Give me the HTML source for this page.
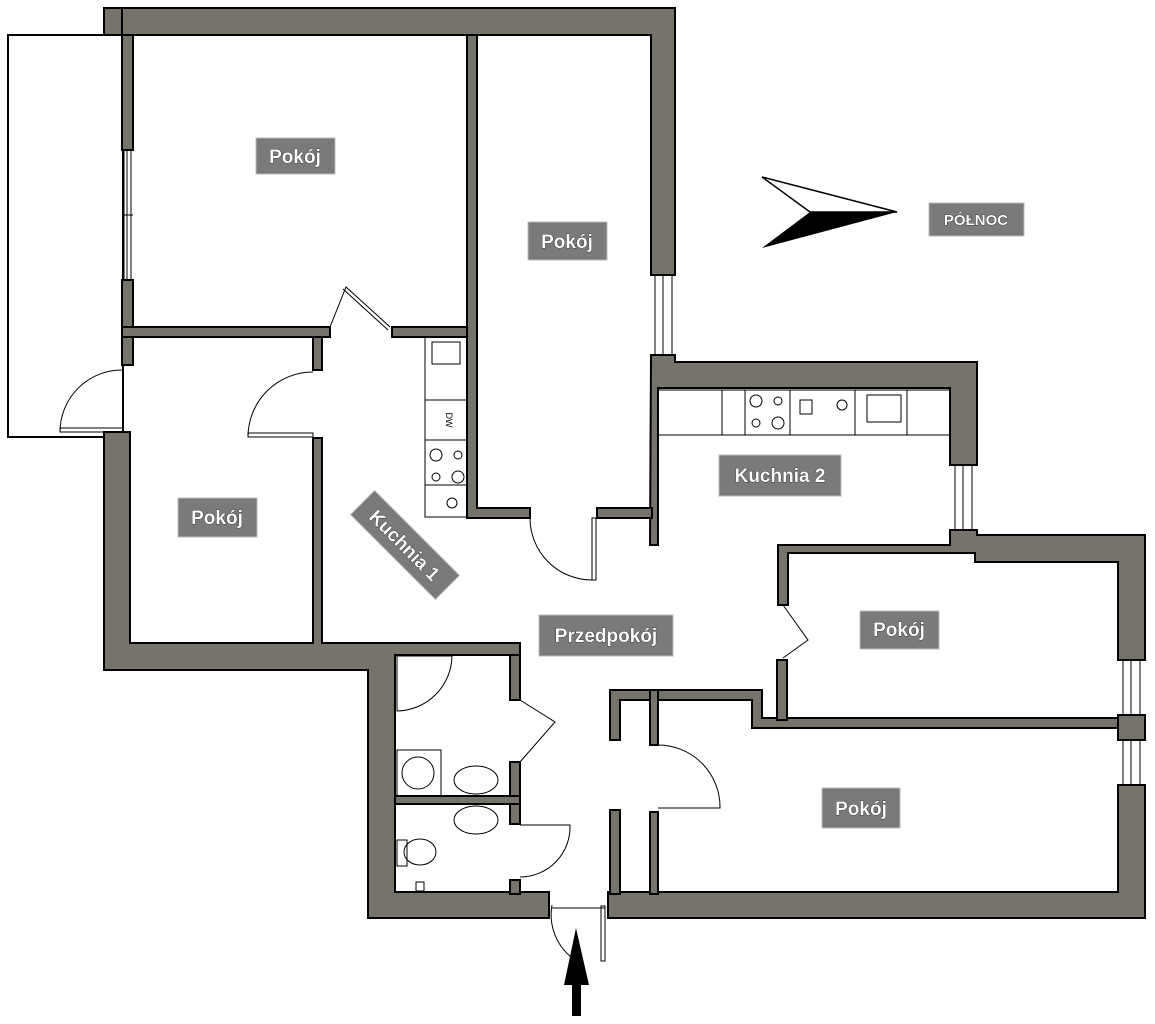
<!DOCTYPE html>
<html><head><meta charset="utf-8"><style>
html,body{margin:0;padding:0;background:#fff;}
svg{display:block}
.w{fill:#76736a;stroke:#000;stroke-width:2}
.l{fill:none;stroke:#000;stroke-width:1}
.t{font-family:"Liberation Sans",sans-serif;font-weight:bold;font-size:19px;fill:#fff;stroke:#000;stroke-width:0.6;paint-order:stroke}
.b{fill:#7a7a7a;stroke:#bbb;stroke-width:1}
</style></head><body>
<svg width="1155" height="1024" viewBox="0 0 1155 1024" xmlns="http://www.w3.org/2000/svg">
<rect x="8" y="35" width="115" height="402" fill="#fff" stroke="#000" stroke-width="2"/>
<path class="w" d="M104 8 H675 V275 H651 V35 H122 V8 Z"/>
<rect class="w" x="104" y="8" width="18" height="27"/>
<path class="w" d="M651 355 H675 V362 H977 V465 H950 V388 H658 V545 H650 Z"/>
<path class="w" d="M950 530 H977 V535 H1145 V660 H1118 V562 H975 V553 H788 V605 H778 V545 H950 Z"/>
<rect class="w" x="1118" y="715" width="27" height="25"/>
<path class="w" d="M1118 785 H1145 V918 H608 V892 H1118 Z"/>
<path class="w" d="M104 432 H130 V643 H313 V438 H322 V643 H520 V655 H395 V892 H549 V918 H368 V670 H104 Z"/>
<rect class="w" x="122" y="35" width="11" height="115"/>
<rect class="w" x="122" y="280" width="11" height="85"/>
<rect class="w" x="122" y="327" width="208" height="10"/>
<rect class="w" x="392" y="327" width="80" height="10"/>
<rect class="w" x="313" y="337" width="9" height="33"/>
<path class="w" d="M467 35 H477 V508 H530 V518 H467 Z"/>
<rect class="w" x="597" y="508" width="55" height="10"/>
<rect class="w" x="510" y="655" width="10" height="45"/>
<rect class="w" x="510" y="762" width="10" height="62"/>
<rect class="w" x="395" y="796" width="125" height="8"/>
<rect class="w" x="510" y="880" width="10" height="14"/>
<path class="w" d="M610 690 H762 V718 H1118 V728 H752 V700 H620 V740 H610 Z"/>
<rect class="w" x="650" y="690" width="8" height="55"/>
<rect class="w" x="777" y="660" width="10" height="60"/>
<rect class="w" x="610" y="810" width="10" height="84"/>
<rect class="w" x="650" y="812" width="8" height="82"/>
<g class="l">
<rect x="124" y="150" width="7" height="130"/><line x1="127" y1="150" x2="127" y2="280"/><line x1="122" y1="215" x2="133" y2="215"/>
<rect x="655" y="275" width="17" height="80"/><line x1="663" y1="275" x2="663" y2="355"/>
<rect x="955" y="465" width="17" height="65"/><line x1="963" y1="465" x2="963" y2="530"/>
<rect x="1123" y="660" width="17" height="55"/><line x1="1131" y1="660" x2="1131" y2="715"/>
<rect x="1123" y="740" width="17" height="45"/><line x1="1131" y1="740" x2="1131" y2="785"/>
</g>
<g class="l">
<path d="M123 370 A62 62 0 0 0 60 432"/><rect x="60" y="428" width="63" height="4"/>
<path d="M313 372 A65 65 0 0 0 248 437"/><rect x="248" y="433" width="65" height="4"/>
<path d="M330 327 L346 287 L390 327"/><line x1="343" y1="289" x2="388" y2="330"/>
<path d="M530 518 A62 62 0 0 0 592 580"/><rect x="592" y="518" width="4" height="62"/>
<path d="M783 605 L808 640 L783 658"/>
<path d="M520 700 L555 722 L520 762"/>
<path d="M520 825 L570 825 A50 50 0 0 1 520 877"/>
<path d="M658 745 A62 62 0 0 1 720 808 H658"/>
<path d="M552 905 A55 55 0 0 0 575 960"/><rect x="601" y="906" width="4" height="55"/>
<line x1="552" y1="908" x2="605" y2="908"/>
</g>
<g class="l">
<rect x="425" y="337" width="42" height="180"/>
<line x1="425" y1="400" x2="467" y2="400"/><line x1="425" y1="440" x2="467" y2="440"/><line x1="425" y1="485" x2="467" y2="485"/>
<rect x="432" y="342" width="28" height="22"/>
<circle cx="436" cy="455" r="6"/><circle cx="458" cy="455" r="4"/><circle cx="436" cy="477" r="4"/><circle cx="458" cy="477" r="6"/>
<circle cx="452" cy="503" r="5"/>
</g>
<text x="446" y="420" font-family="Liberation Sans" font-size="9" transform="rotate(90 446 420)" text-anchor="middle">DW</text>
<g class="l">
<rect x="658" y="390" width="292" height="45"/>
<line x1="722" y1="390" x2="722" y2="435"/><line x1="745" y1="390" x2="745" y2="435"/><line x1="790" y1="390" x2="790" y2="435"/><line x1="855" y1="390" x2="855" y2="435"/><line x1="907" y1="390" x2="907" y2="435"/>
<circle cx="756" cy="401" r="6"/><circle cx="778" cy="401" r="4"/><circle cx="756" cy="423" r="4"/><circle cx="778" cy="423" r="6"/>
<rect x="800" y="400" width="12" height="14"/><circle cx="842" cy="405" r="5"/>
<rect x="867" y="395" width="34" height="27"/>
</g>
<g class="l">
<path d="M397 656 H452 A56 56 0 0 1 397 711 Z"/>
<rect x="397" y="750" width="44" height="46"/><circle cx="418" cy="773" r="16"/>
<ellipse cx="476" cy="780" rx="22" ry="14"/>
<ellipse cx="476" cy="820" rx="22" ry="14"/>
<ellipse cx="420" cy="852" rx="16" ry="13"/><rect x="397" y="840" width="10" height="26"/>
<rect x="416" y="882" width="8" height="9"/>
</g>
<polygon points="762,177 897,212 810,212" fill="#fff" stroke="#000" stroke-width="1.5"/>
<polygon points="762,248 897,212 810,212" fill="#000"/>
<rect x="572" y="980" width="9" height="36" fill="#000"/>
<polygon points="564,985 576,928 589,985" fill="#000"/>
<rect class="b" x="256" y="138" width="79" height="36"/><text class="t" x="295" y="163" text-anchor="middle">Pokój</text>
<rect class="b" x="528" y="222" width="79" height="38"/><text class="t" x="567" y="248" text-anchor="middle">Pokój</text>
<rect class="b" x="178" y="498" width="79" height="39"/><text class="t" x="217" y="524" text-anchor="middle">Pokój</text>
<g transform="rotate(45 405 545)"><rect class="b" x="345" y="528" width="120" height="34"/><text class="t" x="405" y="552" text-anchor="middle">Kuchnia 1</text></g>
<rect class="b" x="719" y="455" width="122" height="41"/><text class="t" x="780" y="482" text-anchor="middle">Kuchnia 2</text>
<rect class="b" x="539" y="615" width="134" height="41"/><text class="t" x="606" y="642" text-anchor="middle">Przedpokój</text>
<rect class="b" x="860" y="611" width="79" height="38"/><text class="t" x="899" y="636" text-anchor="middle">Pokój</text>
<rect class="b" x="822" y="788" width="78" height="40"/><text class="t" x="861" y="815" text-anchor="middle">Pokój</text>
<rect class="b" x="929" y="203" width="95" height="33"/><text class="t" x="976" y="225" text-anchor="middle" style="font-size:15px">PÓŁNOC</text>
</svg>
</body></html>
